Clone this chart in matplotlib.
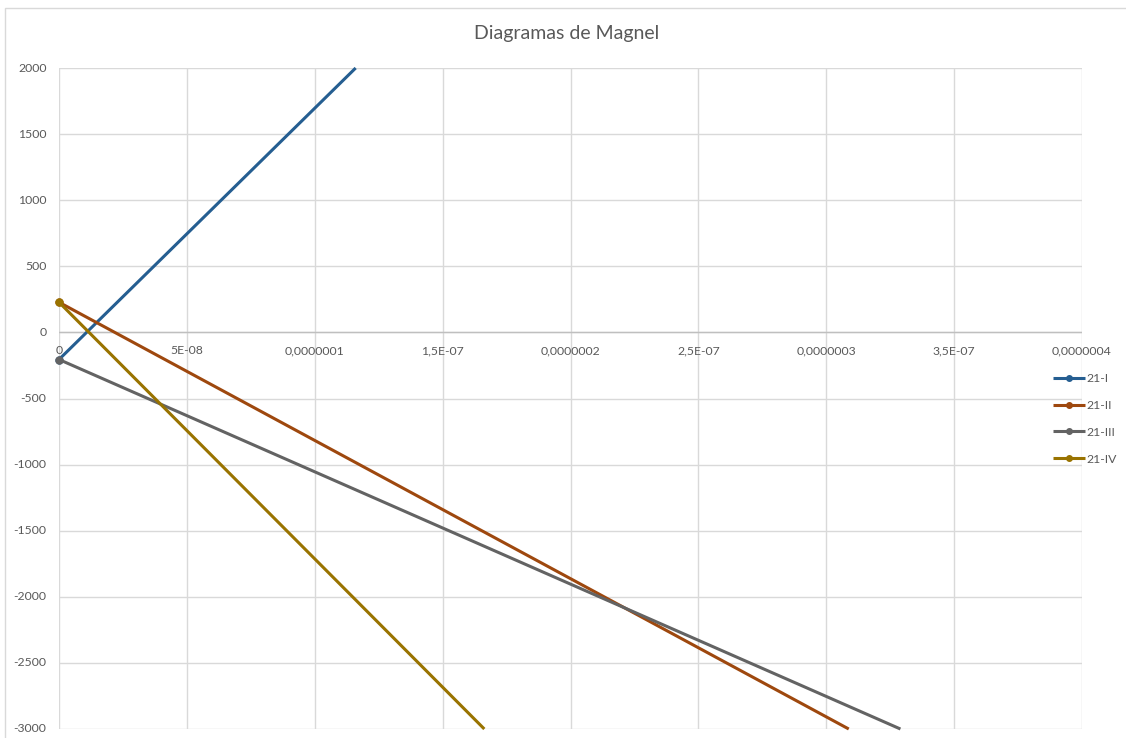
import matplotlib
matplotlib.use("Agg")
import matplotlib.pyplot as plt
from matplotlib.ticker import FixedLocator
from matplotlib.patches import Rectangle

# Magnel diagram lines: eccentricity-independent term vs 1/P
series_names = ["21-I", "21-II", "21-III", "21-IV"]
x_21_I = [0.0, 1.16e-7]
y_21_I = [-205.0, 2000.0]
x_21_II = [0.0, 3.088e-7]
y_21_II = [228.0, -3000.0]
x_21_III = [0.0, 3.29e-7]
y_21_III = [-205.0, -3000.0]
x_21_IV = [0.0, 1.663e-7]
y_21_IV = [228.0, -3000.0]

colors = ["#255E91", "#9E480E", "#636363", "#997300"]

x_ticks = [0, 5e-8, 1e-7, 1.5e-7, 2e-7, 2.5e-7, 3e-7, 3.5e-7, 4e-7]
x_tick_labels = ["0", "5E-08", "0,0000001", "1,5E-07", "0,0000002",
                 "2,5E-07", "0,0000003", "3,5E-07", "0,0000004"]
y_ticks = [2000, 1500, 1000, 500, 0, -500, -1000, -1500, -2000, -2500, -3000]

plt.rcParams["font.family"] = ["Lato", "DejaVu Sans"]
text_color = "#595959"
grid_color = "#D9D9D9"
tick_fs = 8.8

fig = plt.figure(figsize=(11.26, 7.38), dpi=100)
W, H = 1126, 738

# chart border
fig.patches.append(Rectangle((5 / W, -0.1), 1.2, 1 - 8 / H + 0.1,
                             transform=fig.transFigure, fill=False,
                             edgecolor="#D9D9D9", linewidth=1.0))

left, right = 59 / W, 1082 / W
top, bottom = 1 - 68 / H, 1 - 729 / H
ax = fig.add_axes([left, bottom, right - left, top - bottom])

xs = [x_21_I, x_21_II, x_21_III, x_21_IV]
ys = [y_21_I, y_21_II, y_21_III, y_21_IV]
for name, x, y, c in zip(series_names, xs, ys, colors):
    ax.plot(x, y, color=c, linewidth=2.2, marker="o", markersize=5,
            markevery=[0], label=name, solid_capstyle="butt", zorder=3,
            clip_on=False)

ax.set_xlim(0, 4e-7)
ax.set_ylim(-3000, 2000)
ax.xaxis.set_major_locator(FixedLocator(x_ticks))
ax.yaxis.set_major_locator(FixedLocator(y_ticks))
ax.grid(True, color=grid_color, linewidth=1.0, zorder=0)
ax.set_axisbelow(True)
for s in ax.spines.values():
    s.set_visible(False)
ax.tick_params(length=0)
ax.set_xticklabels([])
ax.set_yticklabels([])

# horizontal axis at y = 0
ax.axhline(0, color="#BFBFBF", linewidth=1.0, zorder=1)

# tick labels
for v in y_ticks:
    ax.annotate(f"{v}", xy=(0, v), xycoords=("axes fraction", "data"),
                xytext=(-9, 0), textcoords="offset points",
                ha="right", va="center", fontsize=tick_fs, color=text_color)
for v, lab in zip(x_ticks, x_tick_labels):
    ax.annotate(lab, xy=(v, 0), xycoords="data", xytext=(0, -13),
                textcoords="offset points", ha="center", va="center",
                fontsize=tick_fs, color=text_color, annotation_clip=False)

fig.text(567 / W, 1 - 33 / H, "Diagramas de Magnel", ha="center", va="center",
         fontsize=14, color=text_color)

leg = ax.legend(loc="upper left", bbox_to_anchor=(0.9717, 0.5386),
                frameon=False, fontsize=tick_fs, handlelength=2.6,
                handletextpad=0.15, labelspacing=1.3, borderaxespad=0,
                borderpad=0)
for t in leg.get_texts():
    t.set_color(text_color)
for h in leg.legend_handles:
    h.set_markersize(4)

fig.savefig("out.png", dpi=100)
